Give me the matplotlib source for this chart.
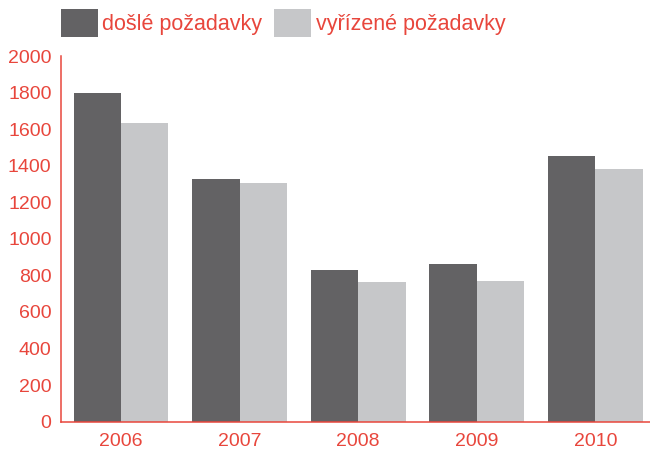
import numpy as np
import matplotlib
matplotlib.use("Agg")
import matplotlib.pyplot as plt

roky = ['2006', '2007', '2008', '2009', '2010']
dosle = [1800, 1325, 827, 860, 1452]
vyrizene = [1635, 1305, 762, 767, 1381]

cervena = '#e8463c'
tmava = '#636264'
svetla = '#c6c7c9'

plt.rcParams['font.family'] = ['Liberation Sans', 'DejaVu Sans']

fig = plt.figure(figsize=(6.5, 4.51), dpi=100)
ax = fig.add_axes([0.0943, 0.065, 0.9057, 0.8108])

x = np.arange(len(roky))
w = 0.4
ax.bar(x - w / 2, dosle, w, color=tmava, label='došlé požadavky')
ax.bar(x + w / 2, vyrizene, w, color=svetla, label='vyřízené požadavky')

ax.set_xlim(-0.503, 4.46)
ax.set_ylim(0, 2000)
ax.set_yticks(range(0, 2001, 200))
ax.set_xticks(x)
ax.set_xticklabels(roky)

for s in ['top', 'right']:
    ax.spines[s].set_visible(False)
for s in ['left', 'bottom']:
    ax.spines[s].set_color(cervena)
    ax.spines[s].set_linewidth(1.1)

ax.tick_params(axis='both', length=0, labelsize=14, labelcolor=cervena)
ax.tick_params(axis='y', pad=7)
ax.tick_params(axis='x', pad=8)

fig.legend(loc='upper left', bbox_to_anchor=(61 / 650, 1 - 9 / 451), ncol=2,
           frameon=False, fontsize=15.5, handlelength=1.72, handleheight=1.6,
           handletextpad=0.2, columnspacing=0.55, borderpad=0, borderaxespad=0,
           labelcolor=cervena)

fig.savefig('out.png', dpi=100)
